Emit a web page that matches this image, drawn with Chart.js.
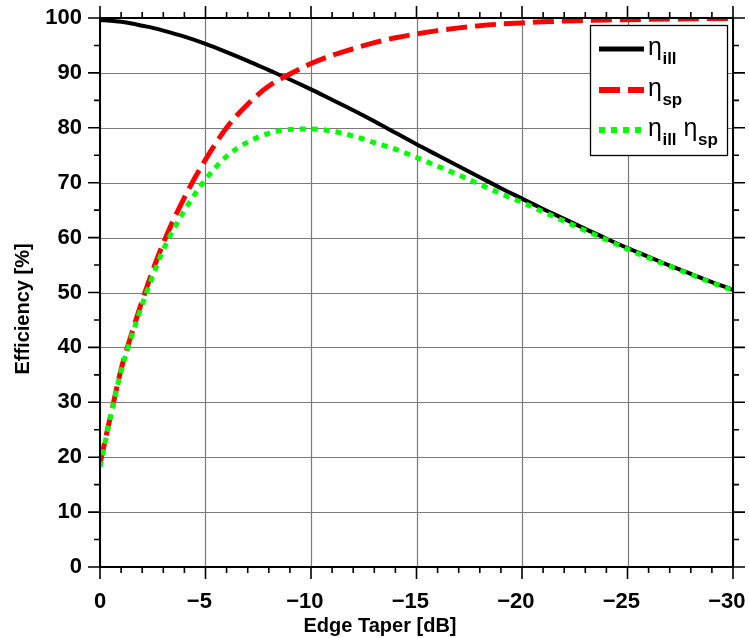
<!DOCTYPE html>
<html>
<head>
<meta charset="utf-8">
<script src="https://cdn.jsdelivr.net/npm/chart.js@4.4.1/dist/chart.umd.min.js"></script>
<style>
html,body{margin:0;padding:0;background:#fff;}
#wrap{width:749px;height:638px;position:relative;}
</style>
</head>
<body>
<div id="wrap"><canvas id="c" width="749" height="638"></canvas></div>
<script>
// ---- data ----
const taperDB = [0,-0.5,-1,-1.5,-2,-2.5,-3,-4,-5,-6,-7,-8,-9,-10,-11,-12,-13,-14,-15,-16,-17,-18,-19,-20,-21,-22,-23,-24,-25,-26,-27,-28,-29,-30];
const etaIll = [99.6,99.5,99.3,99.0,98.6,98.2,97.7,96.6,95.3,93.8,92.2,90.5,88.8,87.0,85.1,83.2,81.2,79.1,77.0,75.0,73.0,71.0,69.0,67.1,65.2,63.4,61.6,59.8,58.1,56.5,54.9,53.4,51.9,50.5];
const etaSp  = [18.8,27.5,36.0,42.5,48.5,54.0,59.0,67.3,74.2,80.0,84.3,87.6,89.8,91.7,93.2,94.4,95.5,96.4,97.1,97.7,98.2,98.6,98.9,99.1,99.3,99.45,99.55,99.65,99.7,99.75,99.8,99.85,99.9,99.9];
const etaProd= [18.2,27.3,35.7,42.0,47.8,53.0,57.8,64.9,70.6,74.8,77.4,79.0,79.7,79.8,79.4,78.5,77.3,76.1,74.6,73.0,71.4,69.7,68.0,66.4,64.7,63.0,61.3,59.6,57.9,56.3,54.8,53.3,51.8,50.4];
const xTicks = [0,-5,-10,-15,-20,-25,-30];
const yTicks = [0,10,20,30,40,50,60,70,80,90,100];
const xTitle = 'Edge Taper [dB]';
const yTitle = 'Efficiency [%]';
const legendItems = [
  {parts:[['η','ill']]},
  {parts:[['η','sp']]},
  {parts:[['η','ill'],['η','sp']]}
];

const toXY = (ys) => taperDB.map((x,i)=>({x:x,y:ys[i]}));
const FONT = '"Liberation Sans", Arial, Helvetica, sans-serif';

const framePlugin = {
  id:'frame',
  beforeDatasetsDraw(chart){
    const {ctx, chartArea:a, scales:{x,y}} = chart;
    ctx.save();
    ctx.strokeStyle = '#7a7a7a';
    ctx.lineWidth = 1.2;
    xTicks.forEach(v=>{
      const px = Math.round(x.getPixelForValue(v))+0.5;
      ctx.beginPath(); ctx.moveTo(px,a.top); ctx.lineTo(px,a.bottom); ctx.stroke();
    });
    yTicks.forEach(v=>{
      const py = Math.round(y.getPixelForValue(v))+0.5;
      ctx.beginPath(); ctx.moveTo(a.left,py); ctx.lineTo(a.right,py); ctx.stroke();
    });
    ctx.restore();
  },
  afterDatasetsDraw(chart){
    const {ctx, chartArea:a, scales:{x,y}} = chart;
    ctx.save();
    // frame
    ctx.strokeStyle = '#000';
    ctx.lineWidth = 2;
    ctx.strokeRect(a.left, a.top, a.right-a.left, a.bottom-a.top);
    // ticks
    const majorLen = 12, minorLen = 6;
    ctx.lineWidth = 1.6;
    for(let v=0; v>=-30; v--){
      const px = x.getPixelForValue(v);
      const len = (v%5===0) ? majorLen : minorLen;
      ctx.beginPath();
      ctx.moveTo(px,a.bottom); ctx.lineTo(px,a.bottom+len);
      ctx.moveTo(px,a.top); ctx.lineTo(px,a.top-len);
      ctx.stroke();
    }
    for(let v=0; v<=100; v+=5){
      const py = y.getPixelForValue(v);
      const len = (v%10===0) ? majorLen : minorLen;
      ctx.beginPath();
      ctx.moveTo(a.left,py); ctx.lineTo(a.left-len,py);
      ctx.moveTo(a.right,py); ctx.lineTo(a.right+len,py);
      ctx.stroke();
    }
    // legend
    const bx=590, by=25, bw=137, bh=130;
    ctx.fillStyle='#fff';
    ctx.fillRect(bx,by,bw,bh);
    ctx.lineWidth=1.3;
    ctx.strokeStyle='#000';
    ctx.strokeRect(bx+0.5,by+0.5,bw,bh);
    const rowsY=[49,90,130];
    chart.data.datasets.forEach((ds,i)=>{
      const ly=rowsY[i];
      ctx.save();
      ctx.strokeStyle=ds.borderColor;
      ctx.lineWidth=ds.borderWidth+1;
      ctx.setLineDash(ds.borderDash||[]);
      ctx.lineCap='butt';
      ctx.beginPath(); ctx.moveTo(599,ly); ctx.lineTo(644,ly); ctx.stroke();
      ctx.restore();
      let tx=648;
      ctx.fillStyle='#000';
      ctx.textBaseline='alphabetic';
      ctx.textAlign='left';
      legendItems[i].parts.forEach((p,k)=>{
        if(k>0) tx+=7;
        ctx.font='25px '+FONT;
        ctx.fillText(p[0],tx,ly+6);
        tx+=ctx.measureText(p[0]).width+0.5;
        ctx.font='bold 17px '+FONT;
        ctx.fillText(p[1],tx,ly+15);
        tx+=ctx.measureText(p[1]).width;
      });
    });
    ctx.restore();
  },
  afterDraw(chart){
    const {ctx} = chart;
    ctx.save();
    ctx.fillStyle='#000';
    ctx.font='bold 20px '+FONT;
    ctx.textAlign='center';
    ctx.textBaseline='middle';
    ctx.fillText(xTitle, 380, 626);
    ctx.translate(23, 309);
    ctx.rotate(-Math.PI/2);
    ctx.fillText(yTitle, 0, 0);
    ctx.restore();
  }
};

new Chart(document.getElementById('c'), {
  type:'line',
  data:{
    datasets:[
      {label:'η_ill', data:toXY(etaIll), borderColor:'#000000', borderWidth:4, pointRadius:0, cubicInterpolationMode:'monotone', order:3, fill:false},
      {label:'η_sp', data:toXY(etaSp), borderColor:'#ff0000', borderWidth:5, borderDash:[21,8], pointRadius:0, cubicInterpolationMode:'monotone', order:2, fill:false},
      {label:'η_ill η_sp', data:toXY(etaProd), borderColor:'#00ff00', borderWidth:5, borderDash:[6,6], pointRadius:0, cubicInterpolationMode:'monotone', order:1, fill:false}
    ]
  },
  options:{
    responsive:false,
    animation:false,
    devicePixelRatio:1,
    layout:{padding:{top:18,right:16,left:0,bottom:0}},
    plugins:{legend:{display:false}, tooltip:{enabled:false}},
    scales:{
      x:{
        type:'linear', min:-30, max:0, reverse:true,
        grid:{display:false, drawTicks:false}, border:{display:false},
        afterBuildTicks(s){ s.ticks = xTicks.map(v=>({value:v})); },
        afterFit(s){ s.height = 71; s.paddingLeft = 0; s.paddingRight = 0; },
        ticks:{
          autoSkip:false, maxRotation:0, padding:22, color:'#000',
          font:{family:FONT, size:22, weight:'bold'},
          callback:(v)=> v===0 ? '0' : '\u2212'+Math.abs(v)+'\u2007'
        }
      },
      y:{
        type:'linear', min:0, max:100,
        grid:{display:false, drawTicks:false}, border:{display:false},
        afterBuildTicks(s){ s.ticks = yTicks.map(v=>({value:v})); },
        afterFit(s){ s.width = 100; s.paddingTop = 0; s.paddingBottom = 0; },
        ticks:{
          padding:18, color:'#000',
          font:{family:FONT, size:22, weight:'bold'}
        }
      }
    }
  },
  plugins:[framePlugin]
});
</script>
</body>
</html>
